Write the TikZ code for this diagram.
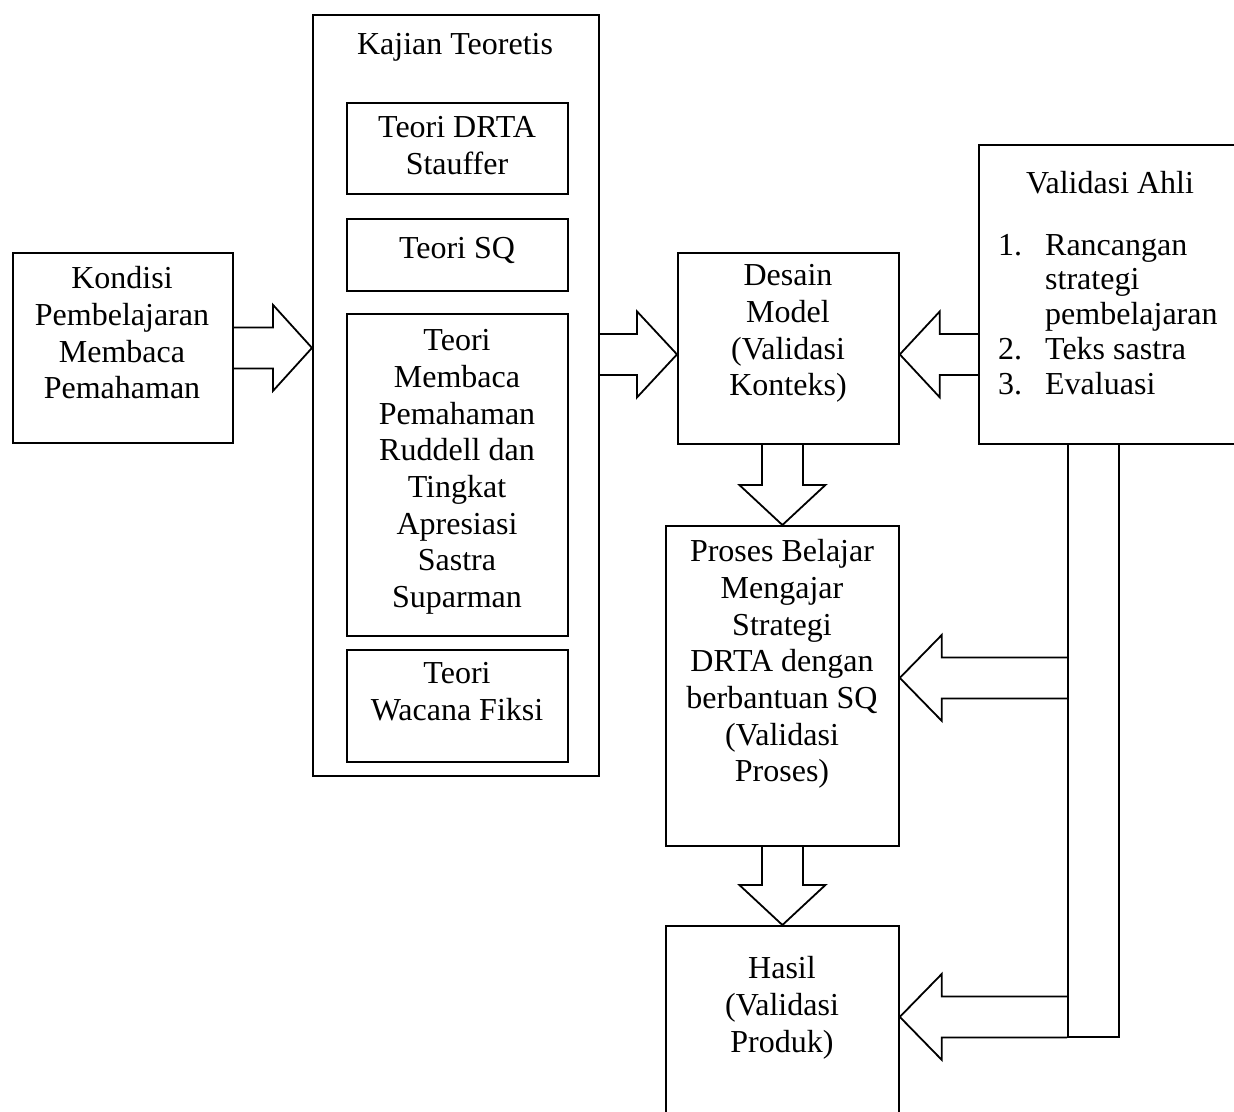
\documentclass[tikz,border=0pt]{standalone}
\usepackage{fontspec}
\setmainfont{Liberation Serif}
\usetikzlibrary{calc}
\tikzset{
 box/.style={draw, line width=1.8pt, rectangle, inner sep=0pt, anchor=north west},
 blk/.style={draw, line width=1.8pt, line join=miter},
 txt/.style={align=center, inner sep=0pt, anchor=north, font=\fontsize{32}{36.7}\selectfont, execute at begin node=\strut},
 lst/.style={align=left, inner sep=0pt, anchor=north west, font=\fontsize{32}{34.75}\selectfont, execute at begin node=\strut},
}
\newcommand\harr[3]{\draw[blk] let \p1=(#1), \p2=(#2) in
 (\x1,\y1+20.5pt) -- (\x2#3,\y1+20.5pt) -- (\x2#3,\y1+43pt) -- (\x2,\y1) -- (\x2#3,\y1-43pt) -- (\x2#3,\y1-20.5pt) -- (\x1,\y1-20.5pt);}
\newcommand\varr[2]{\draw[blk] let \p1=(#1), \p2=(#2) in
 (\x2-20.5pt,\y1) -- (\x2-20.5pt,\y2+40pt) -- (\x2-43pt,\y2+40pt) -- (\x2,\y2) -- (\x2+43pt,\y2+40pt) -- (\x2+20.5pt,\y2+40pt) -- (\x2+20.5pt,\y1);}
\begin{document}
\begin{tikzpicture}[x=1pt,y=-1pt]
\useasboundingbox (0,0) rectangle (1234,1111);
\clip (0,0) rectangle (1234,1111);
% boxes
\node[box, minimum width=220pt, minimum height=190pt] (kondisi) at (12,252) {};
\node[box, minimum width=286pt, minimum height=761pt] (kajian) at (312,14) {};
\node[box, minimum width=221pt, minimum height=91pt] (drta) at (346,102) {};
\node[box, minimum width=221pt, minimum height=72pt] (sq) at (346,218) {};
\node[box, minimum width=221pt, minimum height=322pt] (membaca) at (346,313) {};
\node[box, minimum width=221pt, minimum height=112pt] (wacana) at (346,649) {};
\node[box, minimum width=221pt, minimum height=191pt] (desain) at (677,252) {};
\node[box, minimum width=233pt, minimum height=320pt] (proses) at (665,525) {};
\node[box, minimum width=233pt, minimum height=200pt] (hasil) at (665,925) {};
\node[box, minimum width=264pt, minimum height=299pt] (ahli) at (978,144) {};
\node[box, minimum width=51pt, minimum height=593pt] (bar) at (1067,443) {};
% texts
\node[txt] (kondisiT) at (122,266.3) {Kondisi\\Pembelajaran\\Membaca\\Pemahaman};
\node[txt] (kajianT) at (455,28.3) {Kajian Teoretis};
\node[txt] (drtaT) at (457,116.3) {Teori DRTA\\Stauffer};
\node[txt] (sqT) at (457,232.3) {Teori SQ};
\node[txt] (membacaT) at (457,329.3) {Teori\\Membaca\\Pemahaman\\Ruddell dan\\Tingkat\\Apresiasi\\Sastra\\Suparman};
\node[txt] (wacanaT) at (457,662.3) {Teori\\Wacana Fiksi};
\node[txt] (desainT) at (788,264.3) {Desain\\Model\\(Validasi\\Konteks)};
\node[txt] (prosesT) at (782,539.3) {Proses Belajar\\Mengajar\\Strategi\\DRTA dengan\\berbantuan SQ\\(Validasi\\Proses)};
\node[txt] (hasilT) at (782,956.3) {Hasil\\(Validasi\\Produk)};
\node[txt] (ahliT) at (1110,167.3) {Validasi Ahli};
\node[lst] (listT) at (998,233.7) {\makebox[47pt][l]{1.}Rancangan\\\hspace*{47pt}strategi\\\hspace*{47pt}pembelajaran\\\makebox[47pt][l]{2.}Teks sastra\\\makebox[47pt][l]{3.}Evaluasi};
% block arrows
\harr{kondisi.east}{kajian.west}{-39pt}
\harr{$(kajian.east |- desain.west)+(0,6)$}{desain.west}{-40pt}
\harr{$(ahli.west |- desain.east)+(0,6)$}{desain.east}{+40pt}
\harr{$(bar.west |- proses.east)+(0,-8)$}{proses.east}{+42pt}
\harr{$(bar.west |- hasil.east)+(0,-9)$}{hasil.east}{+42pt}
\varr{desain.south}{proses.north}
\varr{proses.south}{hasil.north}
\end{tikzpicture}
\end{document}
